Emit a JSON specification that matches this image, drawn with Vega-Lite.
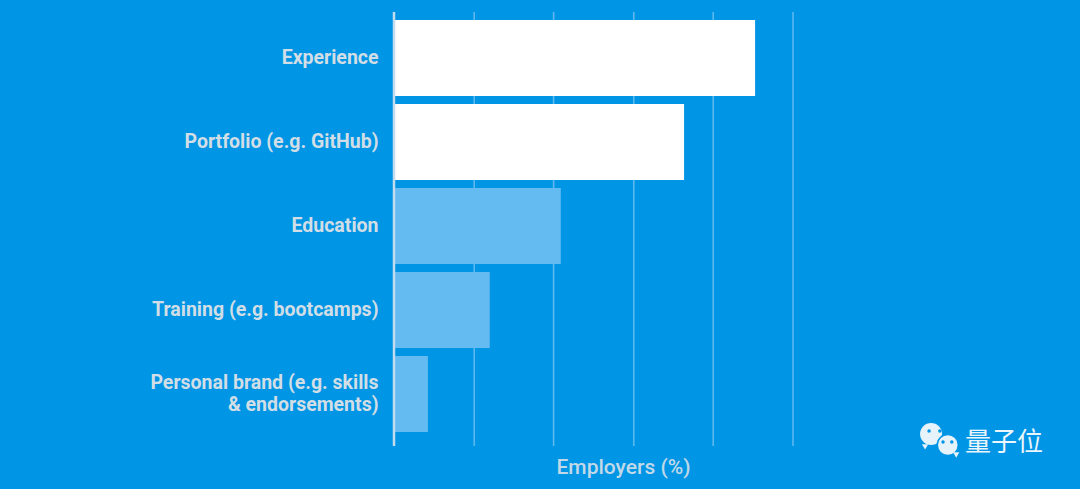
{
"$schema":"https://vega.github.io/schema/vega-lite/v6.json",
"width":399,"height":434,
"autosize":"none",
"padding":{"left":394,"top":12,"right":287,"bottom":43},
"background":"#0195E5",
"title":{"text":"量子位","orient":"bottom","anchor":"end","frame":"group","offset":-34,"dx":250,"font":"Noto Sans CJK SC","fontSize":26,"fontWeight":"normal","color":"#EAF5FC","baseline":"middle"},
"config":{"view":{"stroke":null}},
"layer":[
{
"data":{"values":[{"pct":20.1},{"pct":40},{"pct":60.1},{"pct":80},{"pct":100}]},
"mark":{"type":"rule","color":"#62BAEF","strokeWidth":1.5},
"encoding":{"x":{"field":"pct","type":"quantitative"}}
},
{
"data":{"values":[
{"skill":"Experience","pct":90.5,"tier":"top"},
{"skill":"Portfolio (e.g. GitHub)","pct":72.7,"tier":"top"},
{"skill":"Education","pct":41.8,"tier":"other"},
{"skill":"Training (e.g. bootcamps)","pct":24,"tier":"other"},
{"skill":"Personal brand (e.g. skills & endorsements)","pct":8.5,"tier":"other"}]},
"mark":{"type":"bar","clip":false},
"encoding":{
"y":{"field":"skill","type":"nominal","sort":null,
 "scale":{"range":[4,424],"paddingInner":0.095,"paddingOuter":0.0475},
 "axis":{"title":null,"ticks":false,"grid":false,"domain":false,"labelColor":"#D2DEE6","labelFont":"Roboto","labelFontSize":19.5,"labelFontWeight":"bold","labelPadding":16,"labelLimit":300,"labelLineHeight":22,
 "labelOffset":{"condition":{"test":"indexof(datum.value,'Personal') == 0","value":-11},"value":0},
 "labelExpr":"datum.label == 'Personal brand (e.g. skills & endorsements)' ? ['Personal brand (e.g. skills','& endorsements)'] : datum.label"}},
"x":{"field":"pct","type":"quantitative",
 "scale":{"domain":[0,100],"nice":false},
 "axis":{"title":"Employers (%)","titleColor":"#C1D9E8","titleFont":"Roboto","titleFontSize":21,"titleFontWeight":500,"titleX":229,"titleY":27,"titleBaseline":"alphabetic","labels":false,"ticks":false,"domain":false,"grid":false}},
"color":{"field":"tier","type":"nominal","scale":{"domain":["top","other"],"range":["#FFFFFF","#63BBF1"]},"legend":null}
}
},
{
"data":{"values":[{"pct":0}]},
"mark":{"type":"rule","color":"#C0DCEE","strokeWidth":2.5},
"encoding":{"x":{"field":"pct","type":"quantitative"}}
},
{
"data":{"values":[
{"part":"bubble large","px":134.6,"py":2.76},
{"part":"tail","px":133.1,"py":-0.2},
{"part":"ring","px":138.8,"py":0.23},
{"part":"bubble small","px":138.8,"py":0.23},
{"part":"tail","px":140.9,"py":-2.07},
{"part":"eye","px":134.1,"py":3.46},
{"part":"eye","px":136.8,"py":3.46},
{"part":"eye","px":137.6,"py":0.92},
{"part":"eye","px":139.8,"py":0.92}]},
"mark":{"type":"point","filled":true,"clip":false,"opacity":1,"strokeWidth":0},
"encoding":{
"x":{"field":"px","type":"quantitative"},
"y":{"field":"py","type":"quantitative","scale":{"domain":[0,100],"nice":false,"zero":false},"axis":null},
"color":{"field":"part","type":"nominal","scale":{"domain":["bubble large","bubble small","tail","ring","eye"],"range":["#E6F3FB","#E6F3FB","#E6F3FB","#0195E5","#0195E5"]},"legend":null},
"size":{"field":"part","type":"nominal","scale":{"type":"ordinal","domain":["bubble large","bubble small","tail","ring","eye"],"range":[484,380,40,500,12]},"legend":null},
"shape":{"field":"part","type":"nominal","scale":{"domain":["bubble large","bubble small","tail","ring","eye"],"range":["circle","circle","triangle-down","circle","circle"]},"legend":null}
}
}
],
"resolve":{"scale":{"y":"independent","color":"independent"}}
}
